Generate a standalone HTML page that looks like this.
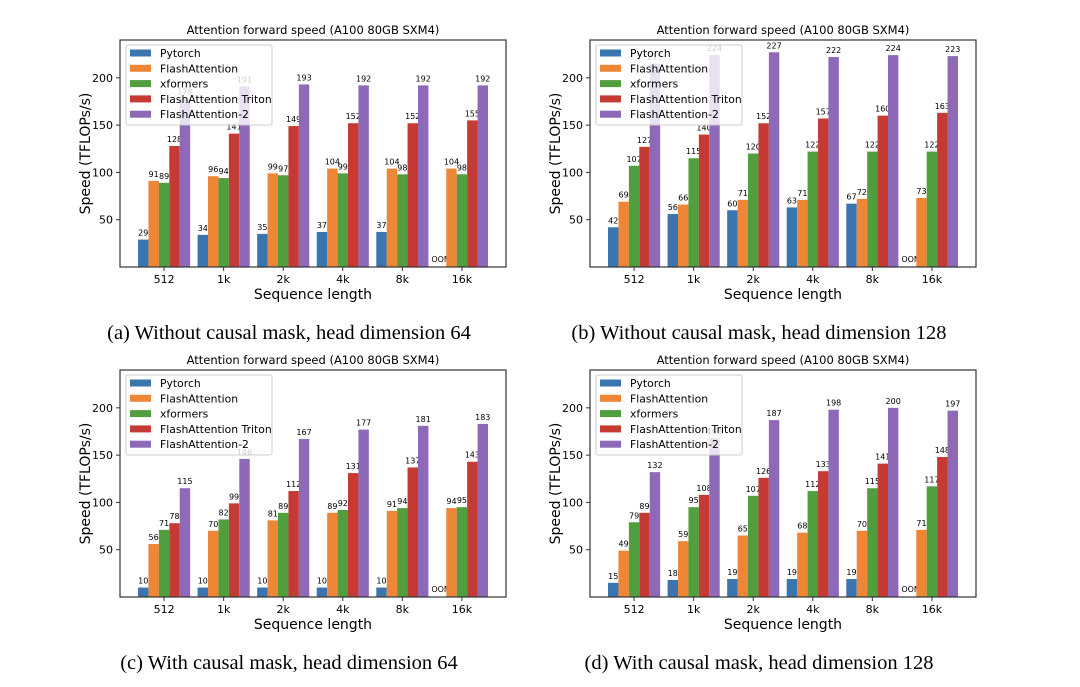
<!DOCTYPE html>
<html><head><meta charset="utf-8"><style>
html,body{margin:0;padding:0;background:#fff;}
svg{display:block;font-family:"DejaVu Sans","Liberation Sans",sans-serif;}
.cap{font-family:"Liberation Serif",serif;font-size:20.5px;}
</style></head><body>
<svg id="fig" width="1080" height="687" viewBox="0 0 1080 687" xmlns="http://www.w3.org/2000/svg"></svg>
<script>
const categories = ["512","1k","2k","4k","8k","16k"];
const seriesNames = ["Pytorch","FlashAttention","xformers","FlashAttention Triton","FlashAttention-2"];
const yTicks = [50,100,150,200];
const a_pytorch=[29,34,35,37,37,null], a_fa=[91,96,99,104,104,104], a_xf=[89,94,97,99,98,98], a_triton=[128,141,149,152,152,155], a_fa2=[178,191,193,192,192,192];
const b_pytorch=[42,56,60,63,67,null], b_fa=[69,66,71,71,72,73], b_xf=[107,115,120,122,122,122], b_triton=[127,140,152,157,160,163], b_fa2=[215,224,227,222,224,223];
const c_pytorch=[10,10,10,10,10,null], c_fa=[56,70,81,89,91,94], c_xf=[71,82,89,92,94,95], c_triton=[78,99,112,131,137,143], c_fa2=[115,146,167,177,181,183];
const d_pytorch=[15,18,19,19,19,null], d_fa=[49,59,65,68,70,71], d_xf=[79,95,107,112,115,117], d_triton=[89,108,126,133,141,148], d_fa2=[132,168,187,198,200,197];
const captions=["(a) Without causal mask, head dimension 64","(b) Without causal mask, head dimension 128","(c) With causal mask, head dimension 64","(d) With causal mask, head dimension 128"];
const colors=["#3b75af","#ef8636","#519e3e","#c53a32","#8d69b8"];
const panels=[[a_pytorch,a_fa,a_xf,a_triton,a_fa2],[b_pytorch,b_fa,b_xf,b_triton,b_fa2],[c_pytorch,c_fa,c_xf,c_triton,c_fa2],[d_pytorch,d_fa,d_xf,d_triton,d_fa2]];
const NS="http://www.w3.org/2000/svg";
const svg=document.getElementById('fig');
function mk(tag,attrs,parent,txt){const e=document.createElementNS(NS,tag);for(const k in attrs)e.setAttribute(k,attrs[k]);if(txt!==undefined)e.textContent=txt;parent.appendChild(e);return e;}
panels.forEach((data,p)=>{
  const ox=(p%2)*470, oy=Math.floor(p/2)*330;
  const L=120+ox,R=506+ox,T=40+oy,B=267+oy;
  const g=mk('g',{},svg);
  
  
  const xs=v=>L+(v+0.74)/6.48*(R-L);
  const ys=v=>B-v/240*(B-T);
  const t=mk('text',{x:(L+R)/2,y:T-6,'text-anchor':'middle','font-size':'11.5'},g,"Attention forward speed (A100 80GB SXM4)");
  
  
  const bw=0.175;
  data.forEach((ser,s)=>{
    ser.forEach((v,i)=>{
      const cx=i+(s-2)*bw;
      if(v===null){
        const o=mk('text',{x:xs(cx),y:B-5,'text-anchor':'middle','font-size':'8'},g,"OOM");
        
        
        return;
      }
      const r=mk('rect',{x:xs(cx-bw/2),y:ys(v),width:xs(cx+bw/2)-xs(cx-bw/2),height:B-ys(v),fill:colors[s]},g);
      
      
      const lb=mk('text',{x:xs(cx),y:ys(v)-4,'text-anchor':'middle','font-size':'8'},g,String(v));
      
      
    });
  });
  const fr=mk('rect',{x:L,y:T,width:R-L,height:B-T,fill:'none',stroke:'#333','stroke-width':'1.2'},g);
  
  
  yTicks.forEach(v=>{
    mk('line',{x1:L-4,x2:L,y1:ys(v),y2:ys(v),stroke:'#333'},g);
    const tl=mk('text',{x:L-7,y:ys(v)+4,'text-anchor':'end','font-size':'11'},g,String(v));
    
    
  });
  categories.forEach((c,i)=>{
    mk('line',{x1:xs(i),x2:xs(i),y1:B,y2:B+4,stroke:'#333'},g);
    const tl=mk('text',{x:xs(i),y:B+16,'text-anchor':'middle','font-size':'11'},g,c);
    
    
  });
  const xl=mk('text',{x:(L+R)/2,y:B+32,'text-anchor':'middle','font-size':'14'},g,"Sequence length");
  
  
  const yl=mk('text',{x:0,y:0,'text-anchor':'middle','font-size':'14',transform:`translate(${L-30},${(T+B)/2}) rotate(-90)`},g,"Speed (TFLOPs/s)");
  
  
  const lg=mk('g',{},g);
  
  
  mk('rect',{x:L+6,y:T+5,width:146,height:80,fill:'#fff','fill-opacity':'0.8',stroke:'#ccc',rx:2},lg);
  seriesNames.forEach((n,s)=>{
    const yy=T+13+s*15.3;
    mk('rect',{x:L+10,y:yy-3.5,width:21,height:7,fill:colors[s]},lg);
    const et=mk('text',{x:L+40,y:yy+4,'font-size':'10.8'},lg,n);
    
    
  });
  const cp=mk('text',{x:289+ox,y:339+oy,'text-anchor':'middle',class:'cap'},svg,captions[p]);
  
  
});
</script>
</body></html>
